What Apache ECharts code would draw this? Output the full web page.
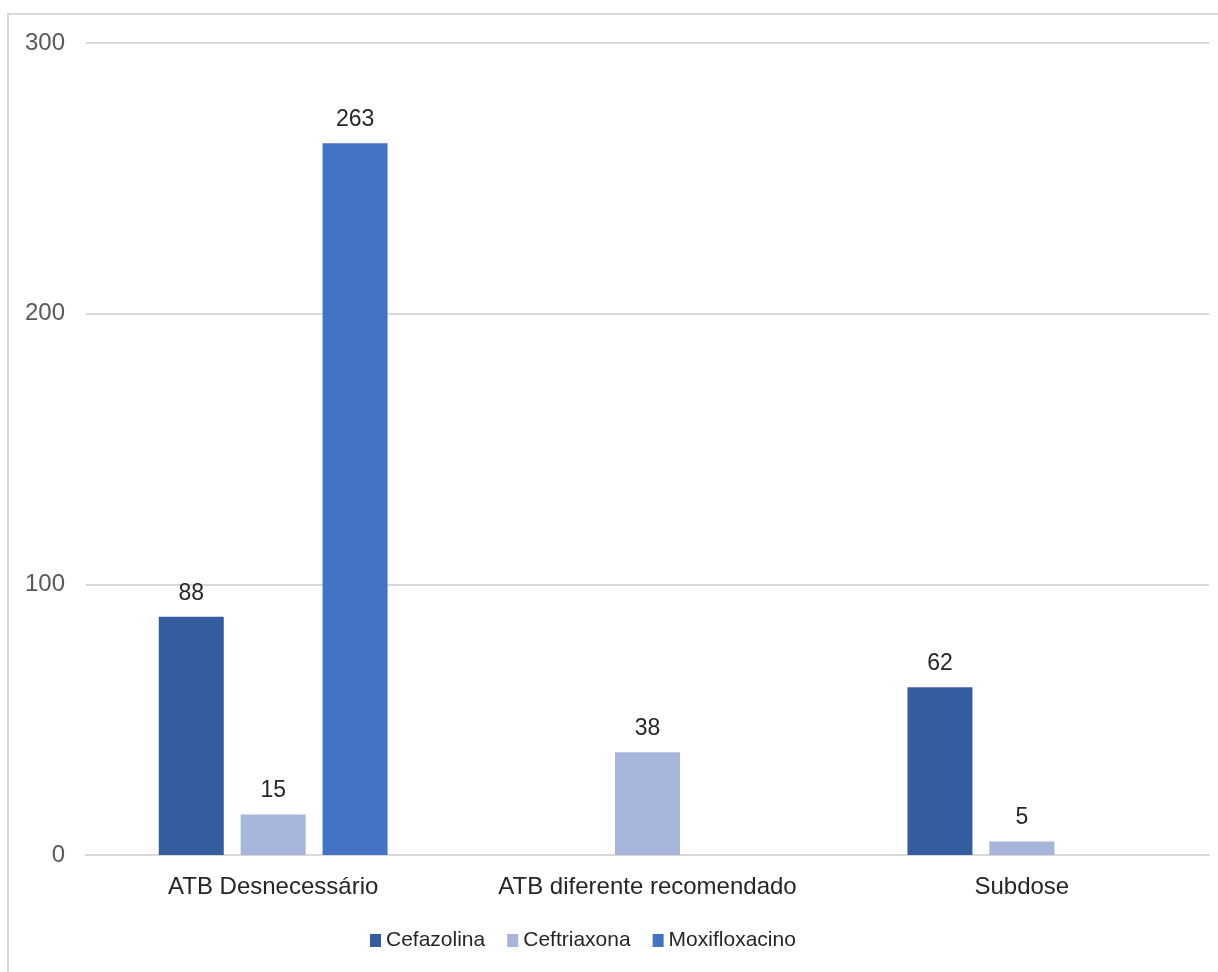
<!DOCTYPE html>
<html>
<head>
<meta charset="utf-8">
<script src="https://cdn.jsdelivr.net/npm/echarts@6/dist/echarts.min.js"></script>
<style>
  html, body { margin: 0; padding: 0; background: #fff; overflow: hidden; }
  #frame {
    position: absolute; left: 7px; top: 13px; width: 1400px; height: 1100px;
    border: 2px solid #d9d9d9; box-sizing: border-box;
  }
  #chart { position: absolute; left: 0; top: 0; width: 1218px; height: 972px; }
</style>
</head>
<body>
<div id="frame"></div>
<div id="chart"></div>
<script>
  const categories = ["ATB Desnecessário", "ATB diferente recomendado", "Subdose"];
  const cefazolina = [88, null, 62];
  const ceftriaxona = [15, 38, 5];
  const moxifloxacino = [263, null, null];
  const yTicks = { min: 0, max: 300, interval: 100 };

  const font = "'Liberation Sans', Arial, sans-serif";

  const makeSeries = (name, data, color) => ({
    name: name,
    type: "bar",
    data: data,
    barWidth: 65,
    barGap: "26%",
    itemStyle: { color: color },
    label: {
      show: true,
      position: "top",
      distance: 12,
      color: "#262626",
      fontSize: 23,
      fontFamily: font,
    },
  });

  var myChart = echarts.init(document.getElementById("chart"));
  myChart.setOption({
    animation: false,
    textStyle: { fontFamily: font },
    grid: { left: 86, right: 9, top: 43, bottom: 117, containLabel: false },
    legend: {
      bottom: 16,
      left: 365,
      itemWidth: 11,
      itemHeight: 13,
      itemGap: 22,
      icon: "rect",
      textStyle: { fontSize: 21, color: "#262626", fontFamily: font },
      data: ["Cefazolina", "Ceftriaxona", "Moxifloxacino"],
    },
    xAxis: {
      type: "category",
      data: categories,
      axisLine: { lineStyle: { color: "#d9d9d9", width: 2 } },
      axisTick: { show: false },
      axisLabel: { interval: 0, fontSize: 24, color: "#262626", margin: 20, fontFamily: font },
    },
    yAxis: {
      type: "value",
      min: yTicks.min,
      max: yTicks.max,
      interval: yTicks.interval,
      axisLine: { show: false },
      axisTick: { show: false },
      axisLabel: { fontSize: 24, color: "#595959", margin: 21, fontFamily: font },
      splitLine: { lineStyle: { color: "#d9d9d9", width: 2 } },
    },
    series: [
      makeSeries("Cefazolina", cefazolina, "#345da0"),
      makeSeries("Ceftriaxona", ceftriaxona, "#a8b5da"),
      makeSeries("Moxifloxacino", moxifloxacino, "#4472c4"),
    ],
  });
</script>
</body>
</html>
